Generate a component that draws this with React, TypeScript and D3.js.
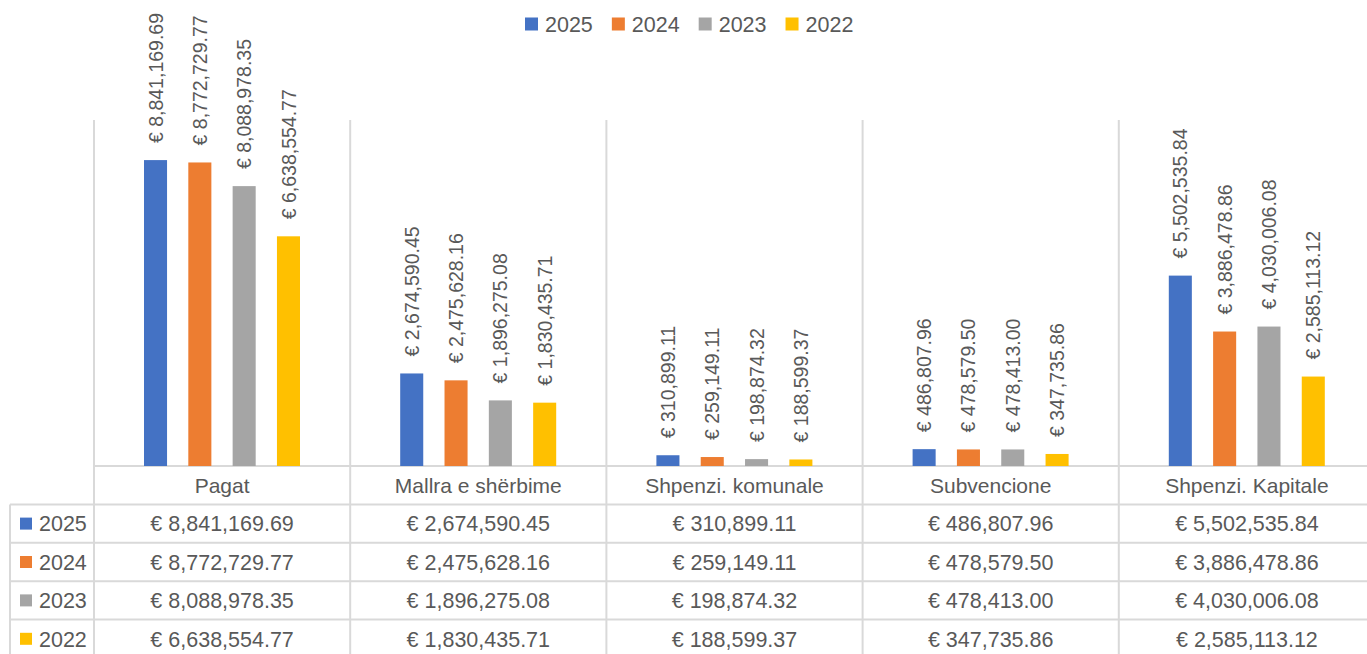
import React, { useRef, useEffect } from 'react';
import * as d3 from 'd3';

const categories = ['Pagat', 'Mallra e shërbime', 'Shpenzi. komunale', 'Subvencione', 'Shpenzi. Kapitale'];
const years = ['2025', '2024', '2023', '2022'];
const values2025 = [8841169.69, 2674590.45, 310899.11, 486807.96, 5502535.84];
const values2024 = [8772729.77, 2475628.16, 259149.11, 478579.5, 3886478.86];
const values2023 = [8088978.35, 1896275.08, 198874.32, 478413.0, 4030006.08];
const values2022 = [6638554.77, 1830435.71, 188599.37, 347735.86, 2585113.12];
const yearColors = ['#4472C4', '#ED7D31', '#A5A5A5', '#FFC000'];

const seriesValues = [values2025, values2024, values2023, values2022];

export default function App() {
    const svgRef = useRef<SVGSVGElement>(null);
    const width = 1367;
    const height = 654;

    useEffect(() => {
        if (!svgRef.current) return;
        const svg = d3.select(svgRef.current);
        svg.selectAll('*').remove();

        const font = '"Liberation Sans", Arial, sans-serif';
        const textColor = '#595959';
        const gridColor = '#D9D9D9';

        const plotLeft = 94;
        const plotRight = 1375;
        const plotTop = 120;
        const baseline = 466;
        const tableLeft = 10;

        // scales
        const x0 = d3.scaleBand().domain(categories).range([plotLeft, plotRight]);
        const x1 = d3.scaleBand().domain(years).range([50, 206]).paddingInner(0.48);
        const y = d3.scaleLinear().domain([0, 10000000]).range([baseline, plotTop]);
        const rows = d3.scaleBand().domain(['header', ...years]).range([baseline, baseline + 5 * 38.4]);

        const fmt = d3.format(',.2f');
        const money = (v: number) => '€ ' + fmt(v);

        // vertical grid / table column lines
        categories.forEach(c => {
            const bx = x0(c) as number;
            svg.append('line')
                .attr('x1', bx).attr('x2', bx)
                .attr('y1', plotTop).attr('y2', height + 10)
                .attr('stroke', gridColor).attr('stroke-width', 2);
        });

        // table left column outer line
        svg.append('line')
            .attr('x1', tableLeft).attr('x2', tableLeft)
            .attr('y1', rows(years[0]) as number).attr('y2', height + 10)
            .attr('stroke', gridColor).attr('stroke-width', 2);

        // horizontal table lines
        svg.append('line')
            .attr('x1', plotLeft).attr('x2', width + 10)
            .attr('y1', baseline).attr('y2', baseline)
            .attr('stroke', gridColor).attr('stroke-width', 2);
        years.forEach(yr => {
            const ry = rows(yr) as number;
            svg.append('line')
                .attr('x1', tableLeft).attr('x2', width + 10)
                .attr('y1', ry).attr('y2', ry)
                .attr('stroke', gridColor).attr('stroke-width', 2);
        });

        // bars + rotated value labels
        seriesValues.forEach((vals, si) => {
            const yr = years[si];
            categories.forEach((cat, ci) => {
                const bx = (x0(cat) as number) + (x1(yr) as number);
                const bw = x1.bandwidth();
                const top = y(vals[ci]);
                svg.append('rect')
                    .attr('x', bx).attr('y', top)
                    .attr('width', bw).attr('height', baseline - top)
                    .attr('fill', yearColors[si]);

                svg.append('text')
                    .attr('transform', `translate(${bx + bw / 2},${top - 17}) rotate(-90)`)
                    .attr('dy', '0.36em')
                    .attr('text-anchor', 'start')
                    .attr('font-family', font)
                    .attr('font-size', 19.5)
                    .attr('fill', textColor)
                    .text(money(vals[ci]));
            });
        });

        // category header row
        const headerMid = (rows('header') as number) + rows.bandwidth() / 2;
        categories.forEach(cat => {
            svg.append('text')
                .attr('x', (x0(cat) as number) + x0.bandwidth() / 2)
                .attr('y', headerMid)
                .attr('dy', '0.36em')
                .attr('text-anchor', 'middle')
                .attr('font-family', font)
                .attr('font-size', 21)
                .attr('fill', textColor)
                .text(cat);
        });

        // data rows
        years.forEach((yr, si) => {
            const mid = (rows(yr) as number) + rows.bandwidth() / 2;
            svg.append('rect')
                .attr('x', 20).attr('y', mid - 6)
                .attr('width', 12).attr('height', 12)
                .attr('fill', yearColors[si]);
            svg.append('text')
                .attr('x', 39).attr('y', mid)
                .attr('dy', '0.36em')
                .attr('font-family', font)
                .attr('font-size', 21.5)
                .attr('fill', textColor)
                .text(yr);
            categories.forEach((cat, ci) => {
                svg.append('text')
                    .attr('x', (x0(cat) as number) + x0.bandwidth() / 2)
                    .attr('y', mid)
                    .attr('dy', '0.36em')
                    .attr('text-anchor', 'middle')
                    .attr('font-family', font)
                    .attr('font-size', 21.5)
                    .attr('fill', textColor)
                    .text(money(seriesValues[si][ci]));
            });
        });

        // legend
        const legendY = 24;
        const legend = svg.append('g');
        let lx = 525;
        years.forEach((yr, si) => {
            legend.append('rect')
                .attr('x', lx).attr('y', legendY - 6.5)
                .attr('width', 13).attr('height', 13)
                .attr('fill', yearColors[si]);
            const t = legend.append('text')
                .attr('x', lx + 20).attr('y', legendY)
                .attr('dy', '0.36em')
                .attr('font-family', font)
                .attr('font-size', 21.5)
                .attr('fill', textColor)
                .text(yr);
            const tw = (t.node() as SVGTextElement).getComputedTextLength();
            lx += 20 + tw + 19;
        });
    }, []);

    return (
        <div style={{ position: 'absolute', left: 0, top: 0, background: '#fff' }}>
            <svg ref={svgRef} width={width} height={height} style={{ display: 'block' }} />
        </div>
    );
}
